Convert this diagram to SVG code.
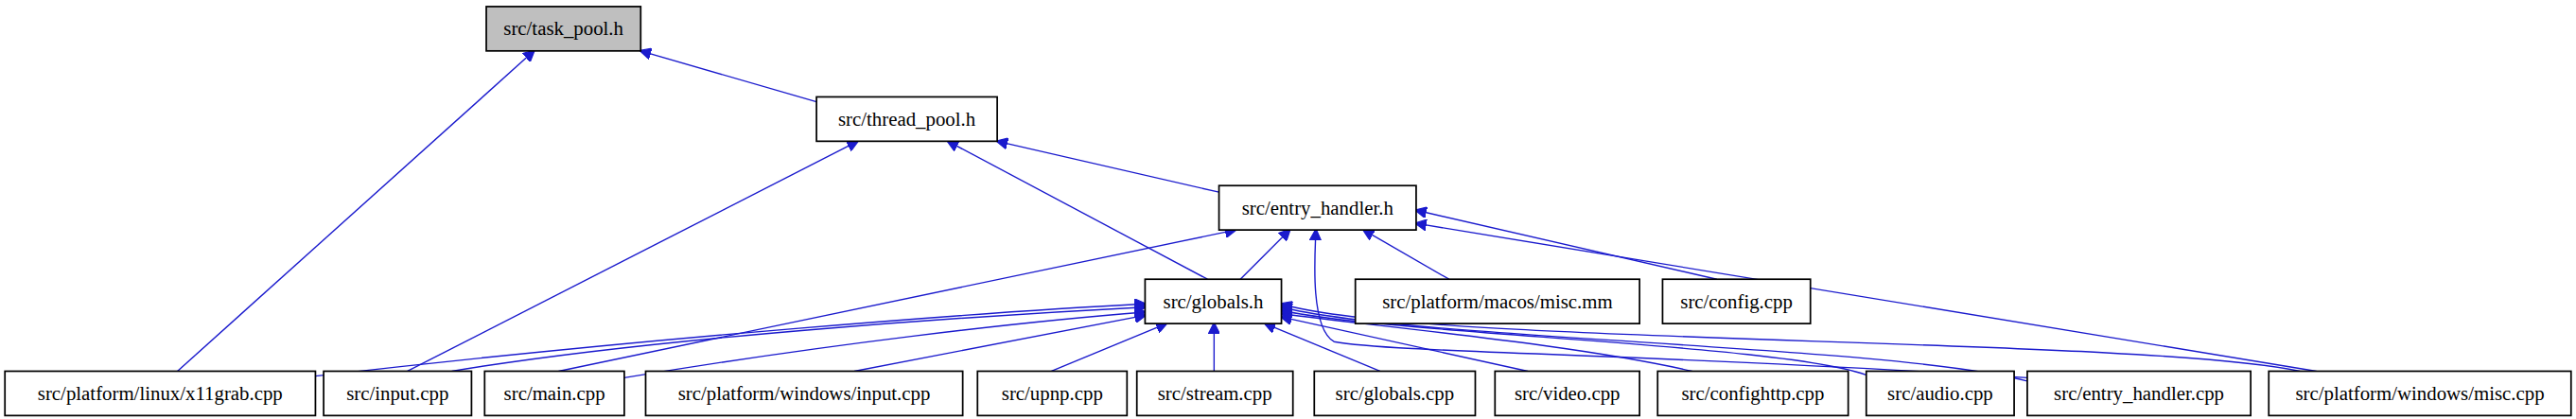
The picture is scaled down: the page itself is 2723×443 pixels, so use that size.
<svg xmlns="http://www.w3.org/2000/svg" width="2723" height="443" viewBox="0 0 2723 443">
<style>
.n rect{fill:#fff;stroke:#000;stroke-width:1}
.n text{font-family:"Liberation Serif",serif;font-size:12px;text-anchor:middle;fill:#000}
#edges path{fill:none;stroke:#1a1acd;stroke-width:0.8}
</style>
<defs><marker id="a" viewBox="0 0 10 10" refX="9" refY="5" markerWidth="7" markerHeight="7" orient="auto" markerUnits="userSpaceOnUse"><path d="M0,0L10,5L0,10z" fill="#1a1acd" stroke="#1a1acd"/></marker></defs>
<rect width="2723" height="443" fill="#fff"/>
<g transform="scale(1.7366)">
<g id="edges">
<path d="M108,226L325,31" marker-end="url(#a)"/>
<path d="M497,62L390,31" marker-end="url(#a)"/>
<path d="M248,226L522,86" marker-end="url(#a)"/>
<path d="M735,170L577,86" marker-end="url(#a)"/>
<path d="M742,117L607,86" marker-end="url(#a)"/>
<path d="M340,226L752,140" marker-end="url(#a)"/>
<path d="M755,170L785,140" marker-end="url(#a)"/>
<path d="M1234,230C1000,215 850,215 812,208C798,200 800,160 801,140" marker-end="url(#a)"/>
<path d="M882,170L830,140" marker-end="url(#a)"/>
<path d="M1045,170L862,128" marker-end="url(#a)"/>
<path d="M1410,226L862,136" marker-end="url(#a)"/>
<path d="M192,229C400,205 600,190 697,185" marker-end="url(#a)"/>
<path d="M275,226C400,205 600,192 697,187" marker-end="url(#a)"/>
<path d="M380,230C500,210 620,196 697,190" marker-end="url(#a)"/>
<path d="M520,226L697,192" marker-end="url(#a)"/>
<path d="M640,226L710,197" marker-end="url(#a)"/>
<path d="M739,226L739,197" marker-end="url(#a)"/>
<path d="M840,226L770,197" marker-end="url(#a)"/>
<path d="M930,226L780,193" marker-end="url(#a)"/>
<path d="M1030,226C960,210 850,200 780,191" marker-end="url(#a)"/>
<path d="M1140,230C1100,210 850,204 780,189" marker-end="url(#a)"/>
<path d="M1234,232C1150,210 860,207 780,187" marker-end="url(#a)"/>
<path d="M1400,226C1300,205 860,210 780,185" marker-end="url(#a)"/>
</g>
<g id="task_pool" class="n"><rect x="296" y="4" width="94" height="27" style="fill:#bfbfbf"/><text x="343" y="21.5">src/task_pool.h</text></g>
<g id="thread_pool" class="n"><rect x="497" y="59" width="110" height="27"/><text x="552" y="76.5">src/thread_pool.h</text></g>
<g id="entry_handler_h" class="n"><rect x="742" y="113" width="120" height="27"/><text x="802" y="130.5">src/entry_handler.h</text></g>
<g id="globals_h" class="n"><rect x="697" y="170" width="83" height="27"/><text x="738.5" y="187.5">src/globals.h</text></g>
<g id="macos_misc" class="n"><rect x="825" y="170" width="173" height="27"/><text x="911.5" y="187.5">src/platform/macos/misc.mm</text></g>
<g id="config" class="n"><rect x="1012" y="170" width="90" height="27"/><text x="1057" y="187.5">src/config.cpp</text></g>
<g id="x11grab" class="n"><rect x="3" y="226" width="189" height="27"/><text x="97.5" y="243.5">src/platform/linux/x11grab.cpp</text></g>
<g id="input" class="n"><rect x="197" y="226" width="90" height="27"/><text x="242" y="243.5">src/input.cpp</text></g>
<g id="main" class="n"><rect x="295" y="226" width="85" height="27"/><text x="337.5" y="243.5">src/main.cpp</text></g>
<g id="win_input" class="n"><rect x="393" y="226" width="193" height="27"/><text x="489.5" y="243.5">src/platform/windows/input.cpp</text></g>
<g id="upnp" class="n"><rect x="595" y="226" width="91" height="27"/><text x="640.5" y="243.5">src/upnp.cpp</text></g>
<g id="stream" class="n"><rect x="692" y="226" width="95" height="27"/><text x="739.5" y="243.5">src/stream.cpp</text></g>
<g id="globals_cpp" class="n"><rect x="800" y="226" width="98" height="27"/><text x="849" y="243.5">src/globals.cpp</text></g>
<g id="video" class="n"><rect x="910" y="226" width="88" height="27"/><text x="954" y="243.5">src/video.cpp</text></g>
<g id="confighttp" class="n"><rect x="1009" y="226" width="116" height="27"/><text x="1067" y="243.5">src/confighttp.cpp</text></g>
<g id="audio" class="n"><rect x="1136" y="226" width="90" height="27"/><text x="1181" y="243.5">src/audio.cpp</text></g>
<g id="entry_handler_cpp" class="n"><rect x="1234" y="226" width="136" height="27"/><text x="1302" y="243.5">src/entry_handler.cpp</text></g>
<g id="win_misc" class="n"><rect x="1381" y="226" width="184" height="27"/><text x="1473" y="243.5">src/platform/windows/misc.cpp</text></g>
</g>
</svg>
